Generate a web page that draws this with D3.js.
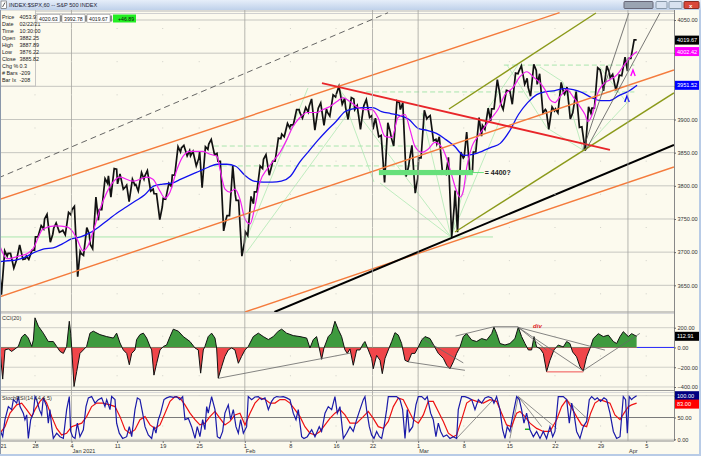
<!DOCTYPE html>
<html><head><meta charset="utf-8">
<script src="https://cdn.jsdelivr.net/npm/d3@7/dist/d3.min.js"></script>
<style>
html,body{margin:0;padding:0;overflow:hidden;background:#fcfaee}
svg{display:block}
text{font-family:"Liberation Sans",Arial,sans-serif}
</style></head><body>
<svg id="chart" width="701" height="456"></svg>
<script>
// ---------------- DATA ----------------
const days=['12-21','12-22','12-23','12-24','12-28','12-29','12-30','12-31','01-04','01-05','01-06','01-07','01-08','01-11','01-12','01-13','01-14','01-15','01-19','01-20','01-21','01-22','01-25','01-26','01-27','01-28','01-29','02-01','02-02','02-03','02-04','02-05','02-08','02-09','02-10','02-11','02-12','02-16','02-17','02-18','02-19','02-22','02-23','02-24','02-25','02-26','03-01','03-02','03-03','03-04','03-05','03-08','03-09','03-10','03-11','03-12','03-15','03-16','03-17','03-18','03-19','03-22','03-23','03-24','03-25','03-26','03-29','03-30','03-31','04-01'];
const opens=[3684,3698,3693,3694,3723,3750,3736,3733, 3764,3698,3712,3764,3815, 3803,3801,3802,3815,3788, 3781,3816,3857,3845, 3851,3863,3837,3755,3778, 3731,3791,3840,3837,3878, 3892,3910,3920,3917,3911, 3939,3918,3915,3921, 3885,3857,3873,3915,3839, 3842,3903,3863,3818,3793, 3844,3851,3891,3916,3924, 3943,3973,3949,3953,3913, 3916,3938,3919,3879,3917, 3969,3963,3967, 3992];
const highs=[3702,3698,3711,3703,3740,3757,3744,3760, 3769,3737,3783,3811,3826, 3818,3810,3820,3823,3788, 3804,3859,3861,3852, 3859,3870,3837,3830,3778, 3784,3830,3847,3872,3894, 3915,3918,3931,3925,3937, 3950,3933,3921,3930, 3902,3895,3928,3925,3861, 3914,3906,3874,3843,3851, 3881,3903,3917,3960,3944, 3970,3981,3983,3969,3919, 3956,3949,3942,3919,3978, 3981,3968,3994, 4020];
const lows=[3636,3676,3689,3689,3723,3715,3730,3726, 3663,3695,3705,3764,3783, 3795,3776,3792,3792,3749, 3780,3816,3845,3830, 3797,3847,3732,3755,3694, 3725,3791,3816,3837,3874, 3892,3902,3884,3891,3905, 3923,3900,3885,3903, 3874,3805,3860,3814,3789, 3842,3868,3818,3723,3730, 3819,3851,3885,3916,3915, 3923,3953,3935,3910,3885, 3910,3901,3888,3853,3917, 3943,3944,3966, 3992];
const closes=[3694,3687,3690,3703,3735,3727,3732,3756, 3701,3727,3748,3804,3825, 3799,3801,3810,3795,3768, 3799,3851,3853,3841, 3855,3849,3750,3787,3714, 3773,3826,3830,3871,3887, 3915,3911,3909,3916,3934, 3932,3931,3913,3906, 3876,3881,3925,3829,3811, 3901,3870,3820,3768,3842, 3821,3875,3898,3939,3943, 3969,3962,3974,3915,3913, 3940,3910,3889,3909,3975, 3971,3959,3973, 4020];

// slow MA (blue), one value per trading-day boundary 0..70
const maSlow=[3685.5,3687,3688.5,3693,3700,3705,3706.5,3712.5,3720,3723,3729,3738,3748.5,3759,3768,3777,3786,3799.5,3802.5,3804,3810,3816,3822,3828,3832.5,3832.5,3829.5,3816,3807,3805.5,3805.5,3807,3814.5,3835.5,3852,3868.5,3883.5,3897,3912,3916.5,3918,3918,3912,3909,3906,3900,3886.5,3883.5,3879,3870,3859.5,3846,3847.5,3852,3858,3864,3882,3907.5,3925.5,3937.5,3942,3943.5,3946.5,3945,3940.5,3933,3928.5,3928.5,3936,3942,3951.5];
// fast MA (magenta): [trading-day position, value]
const maFast=[[0.16,3709.5],[0.93,3690],[2.36,3694.5],[3.12,3697.5],[3.78,3705],[4.88,3735],[6.19,3739.5],[7.51,3738],[8.06,3732],[8.6,3720],[9.26,3702],[9.81,3709.5],[10.36,3730.5],[11.13,3765],[11.89,3790.5],[12.55,3805.5],[13.32,3813],[14.74,3807],[16.28,3813],[16.93,3810],[17.7,3792],[18.25,3781.5],[18.8,3790.5],[19.57,3825],[20.22,3844.5],[20.99,3852],[22.42,3852],[23.18,3847.5],[23.95,3844.5],[24.28,3825],[24.83,3795],[25.37,3790.5],[25.92,3795],[26.47,3780],[27.02,3750],[27.57,3742.5],[28.12,3769.5],[28.66,3805.5],[29.43,3825],[30.09,3837],[30.86,3850.5],[31.62,3870],[32.28,3889.5],[33.05,3903],[33.81,3910.5],[34.91,3910.5],[35.57,3915],[36.34,3919.5],[37.1,3927],[37.76,3933],[38.53,3927],[39.41,3918],[40.17,3915],[40.94,3915],[41.6,3903],[42.36,3874.5],[43.13,3873],[43.79,3903],[44.56,3907.5],[45.1,3885],[45.65,3859.5],[46.42,3850.5],[47.08,3855],[47.84,3865.5],[48.61,3858],[49.16,3840],[49.71,3814.5],[50.26,3790.5],[50.59,3783],[50.92,3790.5],[51.35,3829.5],[51.9,3859.5],[52.56,3874.5],[53.33,3889.5],[54.09,3903],[54.75,3915],[55.52,3937.5],[56.39,3948],[57.16,3964.5],[57.93,3972],[58.59,3964.5],[59.35,3955.5],[59.9,3945],[60.45,3930],[61,3925.5],[61.55,3934.5],[62.31,3945],[62.97,3934.5],[63.74,3919.5],[64.29,3907.5],[64.62,3897],[65.16,3910.5],[65.71,3940.5],[66.26,3952.5],[67.03,3960],[67.8,3967.5],[68.45,3979.5],[69,3990],[69.55,3997.5],[70,4002.4]];

// CCI(20): [trading-day position, value]
const cciData=[[0.16,-25],[0.46,-320],[0.71,-25],[1.08,-15],[1.44,-40],[1.81,-15],[2.17,10],[2.54,105],[2.90,135],[3.27,95],[3.64,10],[3.82,75],[4.00,300],[4.37,215],[4.91,145],[5.46,60],[6.01,60],[6.38,10],[6.74,-40],[7.11,-60],[7.47,10],[7.76,265],[7.91,145],[8.02,0],[8.28,-395],[8.57,-245],[8.93,-60],[9.30,-25],[9.66,10],[10.03,145],[10.39,165],[11.12,130],[11.86,110],[12.59,95],[12.95,145],[13.32,45],[13.68,-25],[14.05,-60],[14.34,-175],[14.60,-60],[14.96,-25],[15.14,80],[15.51,130],[15.88,145],[16.24,95],[16.61,10],[16.79,-25],[17.04,-280],[17.34,-160],[17.70,-25],[18.07,10],[18.43,25],[18.80,110],[19.16,185],[19.71,165],[20.26,110],[20.99,60],[21.54,-5],[21.90,-25],[22.16,-260],[22.45,-25],[22.63,10],[22.99,110],[23.36,145],[23.73,95],[23.91,-5],[24.09,-310],[24.46,-195],[24.82,-90],[25.19,-25],[25.56,-5],[25.92,-25],[26.29,-160],[26.65,-90],[27.02,-25],[27.38,10],[27.93,110],[28.48,145],[29.03,110],[29.58,80],[30.12,110],[30.67,165],[31.04,185],[31.58,145],[32.31,120],[33.05,110],[33.78,95],[34.14,-5],[34.51,80],[34.87,110],[35.16,-5],[35.42,-120],[35.68,-5],[36.15,110],[36.52,145],[36.88,265],[37.25,180],[37.61,110],[37.98,-25],[38.24,-60],[38.53,-15],[38.89,-180],[39.26,-25],[39.62,-25],[39.99,40],[40.17,60],[40.54,-25],[40.90,-110],[41.08,-215],[41.45,-80],[41.82,-130],[42.07,-265],[42.37,-110],[42.73,-25],[43.10,60],[43.46,150],[43.83,125],[44.19,40],[44.56,-130],[44.92,-145],[45.29,-60],[45.65,-60],[46.02,5],[46.39,75],[46.75,110],[47.30,90],[47.85,0],[48.21,-60],[48.76,-110],[49.13,-180],[49.49,-215],[49.86,-145],[50.22,-60],[50.59,5],[50.95,110],[51.32,140],[51.87,75],[52.41,60],[52.96,90],[53.51,75],[54.06,140],[54.31,205],[54.61,140],[54.97,40],[55.52,25],[56.06,40],[56.61,90],[56.98,205],[57.34,110],[57.71,40],[58.08,-25],[58.44,-25],[58.70,110],[58.99,5],[59.36,-10],[59.72,-60],[60.08,-245],[60.45,-130],[60.89,-25],[61.36,25],[61.91,5],[62.28,60],[62.64,40],[62.93,-45],[63.37,-95],[63.74,-195],[64.10,-240],[64.47,-95],[64.84,-10],[65.20,90],[65.75,140],[66.30,110],[66.85,125],[67.40,60],[67.76,40],[68.13,110],[68.49,160],[69.04,110],[69.40,140],[69.95,112.91]];

// StochRSI fast (blue) and slow (red): [trading-day position, value]
const stochFast=[[0.16,22],[0.46,6],[0.71,45],[1.08,75],[1.44,68],[1.63,91],[1.99,83],[2.17,98],[2.36,75],[2.72,60],[2.90,45],[3.09,56],[3.27,2],[3.53,45],[3.82,60],[4.00,98],[4.18,91],[4.48,68],[4.73,56],[4.91,95],[5.28,75],[5.46,37],[5.64,68],[5.83,29],[6.01,2],[6.38,14],[6.74,6],[7.11,2],[7.47,68],[7.76,98],[7.91,18],[8.13,6],[8.39,2],[8.64,37],[8.93,6],[9.30,22],[9.59,75],[9.85,95],[10.21,98],[10.58,83],[10.94,91],[11.31,95],[11.67,75],[11.86,91],[12.22,68],[12.40,98],[12.77,91],[12.95,37],[13.24,14],[13.61,2],[14.05,6],[14.34,29],[14.60,6],[14.96,68],[15.22,95],[15.51,91],[15.80,60],[16.06,29],[16.42,10],[16.79,2],[17.04,29],[17.26,14],[17.52,45],[17.77,60],[18.14,91],[18.43,95],[18.80,98],[19.16,96],[19.53,98],[19.89,91],[20.19,98],[20.44,45],[20.81,48],[21.17,29],[21.54,2],[21.79,29],[22.08,6],[22.38,45],[22.63,22],[22.82,75],[22.99,60],[23.36,98],[23.73,68],[23.99,6],[24.28,2],[24.57,18],[24.82,60],[25.19,79],[25.45,45],[25.74,68],[26.03,29],[26.29,14],[26.54,45],[26.84,14],[27.20,29],[27.38,98],[27.75,91],[28.11,97],[28.48,98],[28.84,91],[29.21,95],[29.58,68],[29.94,87],[30.20,95],[30.49,98],[30.85,97],[31.22,98],[31.58,95],[31.95,91],[32.31,60],[32.61,45],[32.86,68],[33.23,6],[33.48,2],[33.85,6],[34.33,22],[34.69,6],[35.16,29],[35.42,18],[35.79,60],[36.15,75],[36.52,68],[36.88,98],[37.14,60],[37.43,75],[37.80,2],[38.16,14],[38.53,29],[38.89,18],[39.26,45],[39.62,68],[39.99,91],[40.17,98],[40.35,68],[40.65,29],[40.90,10],[41.16,2],[41.45,18],[41.75,6],[42.00,2],[42.26,29],[42.55,68],[42.73,98],[43.10,98],[43.64,98],[44.01,91],[44.30,68],[44.56,2],[44.81,68],[45.03,18],[45.40,29],[45.76,79],[46.02,98],[46.39,98],[46.75,91],[47.00,98],[47.37,60],[47.66,45],[47.95,6],[48.21,37],[48.47,18],[48.76,6],[49.13,10],[49.49,2],[49.86,6],[50.22,2],[50.40,68],[50.77,98],[51.13,98],[51.50,95],[51.87,91],[52.23,68],[52.60,91],[52.96,83],[53.33,95],[53.69,98],[54.06,95],[54.31,83],[54.60,98],[54.97,68],[55.26,22],[55.52,2],[55.77,29],[56.06,18],[56.43,60],[56.80,98],[57.09,91],[57.34,68],[57.60,37],[57.89,60],[58.26,22],[58.63,6],[58.99,18],[59.36,2],[59.72,18],[60.08,2],[60.45,29],[60.75,6],[61.00,18],[61.36,98],[61.91,98],[62.28,91],[62.57,37],[62.83,83],[63.08,60],[63.37,18],[63.74,2],[64.10,29],[64.47,41],[64.76,91],[65.02,98],[65.38,91],[65.64,95],[66.00,87],[66.37,95],[66.66,91],[67.03,60],[67.40,18],[67.76,2],[68.13,6],[68.49,98],[68.74,91],[68.93,14],[69.14,98],[69.40,91],[69.58,95],[69.95,100]];
const stochSlow=[[0.16,14],[0.71,29],[1.26,60],[1.99,79],[2.54,83],[3.09,68],[3.64,52],[4.00,68],[4.55,87],[4.91,95],[5.28,83],[5.83,52],[6.38,25],[6.92,10],[7.47,14],[8.02,29],[8.57,33],[9.12,37],[9.66,52],[10.21,75],[10.76,83],[11.49,83],[12.22,79],[12.77,75],[13.32,52],[13.87,22],[14.41,14],[14.96,22],[15.51,45],[16.06,52],[16.61,33],[17.15,25],[17.70,33],[18.25,60],[18.80,87],[19.35,98],[19.89,95],[20.44,79],[20.99,60],[21.54,45],[22.08,33],[22.63,37],[23.18,52],[23.73,64],[24.28,48],[24.82,33],[25.37,41],[25.92,56],[26.47,60],[27.02,33],[27.57,60],[28.11,83],[28.66,95],[29.21,92],[29.76,83],[30.31,83],[30.85,91],[31.40,91],[31.95,83],[32.50,68],[33.05,52],[33.59,29],[34.14,14],[34.69,10],[35.24,18],[35.79,33],[36.33,48],[36.88,60],[37.43,68],[37.98,56],[38.53,37],[39.26,37],[39.99,52],[40.53,64],[41.08,48],[41.63,29],[42.18,25],[42.73,41],[43.28,75],[43.83,95],[44.37,91],[44.92,68],[45.47,45],[46.02,37],[46.57,56],[47.11,87],[47.66,87],[48.21,64],[48.76,41],[49.31,14],[49.86,6],[50.22,10],[50.77,45],[51.32,83],[51.87,91],[52.42,87],[53.15,83],[53.87,91],[54.60,87],[55.15,60],[55.70,33],[56.24,29],[56.80,60],[57.16,64],[57.71,52],[58.26,37],[58.99,25],[59.72,18],[60.45,18],[61.18,45],[61.73,75],[62.28,91],[62.83,72],[63.37,52],[63.92,33],[64.47,29],[64.91,60],[65.38,83],[65.93,91],[66.48,87],[67.03,83],[67.57,56],[68.13,45],[68.57,60],[69.04,75],[69.40,79],[69.95,83]];

// axis ticks / labels
const priceTicks=[3650,3700,3750,3800,3850,3900,3950,4000,4050];
const priceTicksCovered=[3950,4000];
const cciTicks=[-400,-200,0,200];
const stochTicks=[0,50,100];
const stochTicksCovered=[100];
const tickDays=[0,4,8,13,18,22,27,32,37,41,46,51,56,61,66,71];
const tickText=['21','28','4','11','19','25','1','8','16','22','1','8','15','22','29','5'];
const monthDays=[8,27,46,69];
const monthText=['Jan 2021','Feb','Mar','Apr'];
const cursorDay=41;

// drawn studies, in [trading-day, price] coordinates
const orangeLines=[[[0,3779],[61.5,4061]],[[0,3632],[74.04,3974.6]],[[27.02,3609.8],[74.04,3828.4]]];
const greyDashLine=[[0,3812],[42.7,4061]];
const blackLine=[[30.25,3609.8],[74.04,3861.6]];
const oliveLines=[[[49.38,3915.8],[65.49,4060.6]],[[50.04,3730.4],[74.04,3940]]];
const redLine=[[35.46,3955],[67.03,3854]];
const greyFan=[[[64.07,3854],[69.1,4060.6]],[[64.4,3854],[72.5,4060.6]]];
const supportBand={from:41.7,to:52.0,level:3820,label:'= 4400?',labelAt:53.2};
const paleSolid=[[[0.16,3722.9],[54.2,3722.9]]];
const paleDashed=[[[23.6,3860],[46.2,3860]],[[23.6,3830],[46.2,3830]],[[40.3,3941.5],[69.7,3941.5]],[[55.4,3982],[69.7,3982]]];
const paleDiag=[[[26.58,3700.2],[33.92,3947.5]],[[27.13,3698.7],[38.75,3917.3]],[[37.43,3944.5],[49.6,3722.9]],[[41.82,3804.3],[49.6,3722.9]],[[46.42,3909.8],[49.6,3722.9]],[[49.6,3722.9],[54.97,3899.2]],[[49.6,3722.9],[52.56,3876.6]],[[37.43,3944.5],[41.16,3805.8]],[[55.74,3982.2],[60.12,3887.2]],[[60.12,3887.2],[64.07,3854]],[[61.88,3956.5],[64.07,3854]],[[59.35,3979.1],[61.88,3956.5]],[[64.07,3854],[68.89,3924.9]],[[65.93,3979.1],[68.89,3924.9]],[[53.55,3914.3],[56.94,3982.2]]];
const markers=[{t:69.55,p:3970,c:'#ff00ff'},{t:68.89,p:3931,c:'#0000ff'}];
const cciLines=[[[24.06,-313],[38.53,-58]],[[44.92,-146],[51.13,-231]],[[46.39,92],[50.95,-156]],[[50.1,115],[54.31,210]],[[54.31,210],[56.98,210]],[[56.98,203],[66.48,-27]],[[56.98,203],[64.10,-237]],[[56.98,203],[60.08,-27]],[[64.10,-234],[70.3,142]]];
const cciRedLine=[[60.08,-247],[64.10,-247]];
const stochLines=[[[50.22,2],[54.24,91]],[[56.06,2],[56.98,98]],[[56.98,98],[61.18,25]],[[56.98,98],[59.54,29]],[[62.28,91],[64.65,45]]];
const stochGreen=[[57.71,23],[58.26,23]];
const infoLabels=['Price','Date','Time','Open','High','Low','Close','Chg %','# Bars','Bar Ix'];
const infoValues=['4053.97','02/22/21','10:30:00','3882.25','3887.89','3876.22','3885.82','0.3','-209','-208'];
const topBoxes=['4020.63','3992.78','4019.67'];
const netChange='+46.89';
const lastPrice=4019.67, lastFast=4002.42, lastSlow=3951.52;
const title='INDEX:$SPX,60 -- S&P 500 INDEX';

// ---------------- DRAW ----------------
const svg=d3.select('#chart');
const AX=674, BG='#fcfaee';
const x=d3.scaleLinear().domain([0,71]).range([-1.5,646.2]);
const yP=d3.scaleLinear().domain([3650,4050]).range([285.3,20]);
const yC=d3.scaleLinear().domain([-400,200]).range([387,327.7]);
const yS=d3.scaleLinear().domain([0,100]).range([439.3,395.7]);

svg.append('rect').attr('width',701).attr('height',456).attr('fill',BG);
const defs=svg.append('defs');
function clip(id,y0,y1){defs.append('clipPath').attr('id',id).append('rect').attr('x',0).attr('y',y0).attr('width',AX).attr('height',y1-y0);}
clip('cm',10,312); clip('cc',314,390); clip('cs',394,441);
clip('cup',314,yC(0)); clip('cdn',yC(0),390);

// panel separators
[[312,'#9a9a9a'],[313.5,'#d8d8d8'],[390.5,'#9a9a9a'],[392.5,'#d8d8d8'],[441,'#8a8a8a'],[11,'#b8b8b8'],[13.5,'#d0d0d0']].forEach(([y,c])=>{
  svg.append('line').attr('x1',0).attr('x2',AX).attr('y1',y).attr('y2',y).attr('stroke',c).attr('stroke-width',1);
});

// horizontal grid
const gm=svg.append('g').attr('clip-path','url(#cm)');
priceTicks.forEach(v=>gm.append('line').attr('x1',0).attr('x2',AX).attr('y1',yP(v)).attr('y2',yP(v)).attr('stroke','#c6c6c0').attr('stroke-width',1));
cciTicks.forEach(v=>svg.append('line').attr('x1',0).attr('x2',AX).attr('y1',yC(v)).attr('y2',yC(v)).attr('stroke',v===0?'#7a7a7a':'#cfcfc8').attr('stroke-width',1));
stochTicks.forEach(v=>svg.append('line').attr('x1',0).attr('x2',AX).attr('y1',yS(v)).attr('y2',yS(v)).attr('stroke',v===50?'#7a7a7a':'#cfcfc8').attr('stroke-width',1));
// vertical month lines + cursor
monthDays.concat([cursorDay]).forEach(d=>{
  svg.append('line').attr('x1',x(d)).attr('x2',x(d)).attr('y1',10).attr('y2',441).attr('stroke','#a4a4a0').attr('stroke-width',0.8);
});
// small dots at weekly ticks
tickDays.forEach(d=>{
  [priceTicks.map(yP),cciTicks.map(yC),[yS(50)]].flat().forEach(y=>{
    svg.append('rect').attr('x',x(d)-0.5).attr('y',y+8).attr('width',1).attr('height',1).attr('fill','#d0d0c8');
  });
});

const lineP=d3.line().x(d=>x(d[0])).y(d=>yP(d[1]));
function drawP(g,pts,color,w,dash){g.append('path').attr('d',lineP(pts)).attr('fill','none').attr('stroke',color).attr('stroke-width',w).attr('stroke-dasharray',dash||null);}

// pale green studies (under price)
paleSolid.forEach(l=>drawP(gm,l,'#9fe3a6',0.9));
paleDashed.forEach(l=>drawP(gm,l,'#9fe3a6',0.9,'5,3'));
paleDiag.forEach(l=>drawP(gm,l,'#aee8b2',0.8));

// price path from daily OHLC
const pricePts=[];
days.forEach((d,i)=>{
  const up=closes[i]>=opens[i];
  const e1=up?lows[i]:highs[i], e2=up?highs[i]:lows[i];
  pricePts.push([i+0.05,opens[i]],[i+0.32,e1],[i+0.68,e2],[i+0.95,closes[i]]);
});
gm.append('path').attr('d',lineP(pricePts)).attr('fill','none').attr('stroke','#111').attr('stroke-width',1.7).attr('stroke-linejoin','miter');

// moving averages
const maLine=d3.line().x(d=>x(d[0])).y(d=>yP(d[1])).curve(d3.curveMonotoneX);
gm.append('path').attr('d',maLine(maSlow.map((v,i)=>[i,v]))).attr('fill','none').attr('stroke','#1010ee').attr('stroke-width',1.3);
gm.append('path').attr('d',maLine(maFast)).attr('fill','none').attr('stroke','#f020f0').attr('stroke-width',1.2);

// trend studies
drawP(gm,greyDashLine,'#555',0.9,'6,4');
orangeLines.forEach(l=>drawP(gm,l,'#f47b3c',1.4));
oliveLines.forEach(l=>drawP(gm,l,'#8b9a1a',1.4));
drawP(gm,blackLine,'#000',2);
drawP(gm,redLine,'#e8262a',1.8);
greyFan.forEach(l=>drawP(gm,l,'#555',0.8));

// support band
gm.append('rect').attr('x',x(supportBand.from)).attr('y',yP(supportBand.level)-2.6).attr('width',x(supportBand.to)-x(supportBand.from)).attr('height',5.2).attr('fill','#66e07a');
drawP(gm,[[supportBand.to,supportBand.level],[supportBand.labelAt,supportBand.level]],'#66e07a',1);
gm.append('text').attr('x',x(supportBand.labelAt)+1).attr('y',yP(supportBand.level)+2.5).attr('font-size',7).attr('font-weight','bold').attr('fill','#222').text(supportBand.label);

// markers
markers.forEach(m=>{
  const cx=x(m.t), cy=yP(m.p);
  gm.append('path').attr('d',`M${cx-2.2},${cy+3}L${cx},${cy-3}L${cx+2.2},${cy+3}`).attr('fill','none').attr('stroke',m.c).attr('stroke-width',1.4);
});

// ---- CCI panel ----
const gc=svg.append('g').attr('clip-path','url(#cc)');
const cciArea=d3.area().x(d=>x(d[0])).y0(yC(0)).y1(d=>yC(d[1]));
const cciLn=d3.line().x(d=>x(d[0])).y(d=>yC(d[1]));
gc.append('path').attr('d',cciArea(cciData)).attr('fill','#3e9a3e').attr('clip-path','url(#cup)');
gc.append('path').attr('d',cciArea(cciData)).attr('fill','#f0464a').attr('clip-path','url(#cdn)');
gc.append('path').attr('d',cciLn(cciData)).attr('fill','none').attr('stroke','#111').attr('stroke-width',1);
gc.append('line').attr('x1',x(70)).attr('x2',AX).attr('y1',yC(0)).attr('y2',yC(0)).attr('stroke','#3030ff').attr('stroke-width',1);
cciLines.forEach(l=>gc.append('path').attr('d',cciLn(l)).attr('fill','none').attr('stroke','#666').attr('stroke-width',0.8));
gc.append('path').attr('d',cciLn(cciRedLine)).attr('fill','none').attr('stroke','#f05050').attr('stroke-width',1);
gc.append('text').attr('x',x(58.6)).attr('y',yC(195)).attr('font-size',6).attr('font-style','italic').attr('font-weight','bold').attr('fill','#e02020').text('div');
svg.append('text').attr('x',2).attr('y',320).attr('font-size',5.5).attr('fill','#333').text('CCI(20)');

// ---- Stoch panel ----
const gs=svg.append('g').attr('clip-path','url(#cs)');
const stLn=d3.line().x(d=>x(d[0])).y(d=>yS(d[1]));
stochLines.forEach(l=>gs.append('path').attr('d',stLn(l)).attr('fill','none').attr('stroke','#777').attr('stroke-width',0.8));
gs.append('path').attr('d',stLn(stochGreen)).attr('fill','none').attr('stroke','#20b020').attr('stroke-width',1.5);
gs.append('path').attr('d',stLn(stochSlow)).attr('fill','none').attr('stroke','#ee1111').attr('stroke-width',1.2);
gs.append('path').attr('d',stLn(stochFast)).attr('fill','none').attr('stroke','#1a1aa8').attr('stroke-width',1.2);
svg.append('text').attr('x',2).attr('y',400).attr('font-size',5.5).attr('fill','#333').text('StochRSI(14,14,4,5)');

// ---- right axes ----
svg.append('line').attr('x1',AX+0.5).attr('x2',AX+0.5).attr('y1',10).attr('y2',441).attr('stroke','#888');
function styleAxis(g){g.select('.domain').remove();g.selectAll('line').attr('stroke','#666');g.selectAll('text').attr('font-size',5.6).attr('fill','#333').attr('font-family','"Liberation Sans",Arial,sans-serif');}
const f2=d3.format('.2f');
svg.append('g').attr('transform',`translate(${AX},0)`).call(d3.axisRight(yP).tickValues(priceTicks).tickFormat(v=>priceTicksCovered.includes(v)?'':f2(v)).tickSize(2).tickPadding(1.5)).call(styleAxis);
svg.append('g').attr('transform',`translate(${AX},0)`).call(d3.axisRight(yC).tickValues(cciTicks).tickFormat(f2).tickSize(2).tickPadding(1.5)).call(styleAxis);
svg.append('g').attr('transform',`translate(${AX},0)`).call(d3.axisRight(yS).tickValues(stochTicks).tickFormat(v=>stochTicksCovered.includes(v)?'':f2(v)).tickSize(2).tickPadding(1.5)).call(styleAxis);

function valBox(y,val,fill,tc){
  svg.append('rect').attr('x',AX+1).attr('y',y-4.5).attr('width',25).attr('height',9).attr('fill',fill);
  svg.append('text').attr('x',AX+3).attr('y',y+2).attr('font-size',5.6).attr('fill',tc).text(f2(val));
}
valBox(yP(lastPrice),lastPrice,'#000','#fff');
valBox(yP(lastFast),lastFast,'#ff00ff','#fff');
valBox(yP(lastSlow),lastSlow,'#0000ff','#fff');
valBox(yC(cciData[cciData.length-1][1]),cciData[cciData.length-1][1],'#000','#fff');
valBox(yS(stochFast[stochFast.length-1][1]),stochFast[stochFast.length-1][1],'#000080','#fff');
valBox(yS(stochSlow[stochSlow.length-1][1])+1,stochSlow[stochSlow.length-1][1],'#ff0000','#fff');

// ---- bottom axis ----
const xa=svg.append('g').attr('transform','translate(0,441)').call(d3.axisBottom(x).tickValues(tickDays).tickFormat((d,i)=>tickText[i]).tickSize(2).tickPadding(1));
xa.select('.domain').remove();
xa.selectAll('line').attr('stroke','#777');
xa.selectAll('text').attr('font-size',5.6).attr('fill','#333').attr('font-family','"Liberation Sans",Arial,sans-serif');
xa.selectAll('.tick').filter(d=>d===0).select('text').attr('text-anchor','start').attr('x',1.5);
monthDays.forEach((d,i)=>svg.append('text').attr('x',x(d)+1).attr('y',452.5).attr('font-size',5.6).attr('fill','#333').text(monthText[i]));

// ---- info box ----
svg.append('rect').attr('x',0).attr('y',10).attr('width',35.5).attr('height',76).attr('fill',BG).attr('stroke','#b8b8b8').attr('stroke-width',0.8);
infoLabels.forEach((l,i)=>{
  svg.append('text').attr('x',2).attr('y',18.5+i*7).attr('font-size',5.4).attr('fill','#222').text(l);
  svg.append('text').attr('x',19.5).attr('y',18.5+i*7).attr('font-size',5.4).attr('fill','#222').text(infoValues[i]);
});
const boxX=[37,62,87];
topBoxes.forEach((t,i)=>{
  svg.append('rect').attr('x',boxX[i]).attr('y',14.5).attr('width',23).attr('height',8).attr('fill','#fff').attr('stroke','#999').attr('stroke-width',0.6);
  svg.append('text').attr('x',boxX[i]+2).attr('y',20.7).attr('font-size',5.2).attr('fill','#222').text(t);
  svg.append('rect').attr('x',boxX[i]+23).attr('y',15.5).attr('width',2).attr('height',6).attr('fill','#888');
});
svg.append('rect').attr('x',113).attr('y',14.5).attr('width',23).attr('height',8).attr('fill','#22ee22');
svg.append('text').attr('x',118).attr('y',20.7).attr('font-size',5.2).attr('fill','#111').text(netChange);

// ---- window chrome ----
const grad=defs.append('linearGradient').attr('id','tb').attr('x1',0).attr('x2',0).attr('y1',0).attr('y2',1);
grad.append('stop').attr('offset','0').attr('stop-color','#e6eef9');
grad.append('stop').attr('offset','1').attr('stop-color','#bfd1ea');
svg.append('rect').attr('x',0).attr('y',0).attr('width',701).attr('height',10).attr('fill','url(#tb)');
svg.append('rect').attr('x',1).attr('y',1).attr('width',5.5).attr('height',7.5).attr('fill','#fff').attr('stroke','#555').attr('stroke-width',0.6);
svg.append('path').attr('d','M2.5,7 L5,2.5').attr('stroke','#333').attr('stroke-width',0.8);
svg.append('text').attr('x',9).attr('y',7).attr('font-size',5.6).attr('fill','#223').text(title);
svg.append('rect').attr('x',624).attr('y',1.5).attr('width',29).attr('height',7).attr('rx',1).attr('fill','#9aa4b2').attr('stroke','#667');
svg.append('rect').attr('x',656).attr('y',1.5).attr('width',11).attr('height',7).attr('rx',1).attr('fill','#d8e2f0').attr('stroke','#8899aa');
svg.append('rect').attr('x',669).attr('y',1.5).attr('width',13).attr('height',7).attr('rx',1).attr('fill','#d8e2f0').attr('stroke','#8899aa');
svg.append('rect').attr('x',684).attr('y',1.5).attr('width',15).attr('height',7).attr('rx',1).attr('fill','#d9473a').attr('stroke','#8a2a20');
svg.append('text').attr('x',689).attr('y',7.5).attr('font-size',6).attr('fill','#fff').attr('font-weight','bold').text('x');
svg.append('rect').attr('x',699).attr('y',10).attr('width',2).attr('height',446).attr('fill','#b8cbe6');
svg.append('rect').attr('x',0).attr('y',454).attr('width',701).attr('height',2).attr('fill','#b8cbe6');
svg.append('rect').attr('x',0).attr('y',10).attr('width',1).attr('height',444).attr('fill','#8a97aa');
</script>
</body></html>
